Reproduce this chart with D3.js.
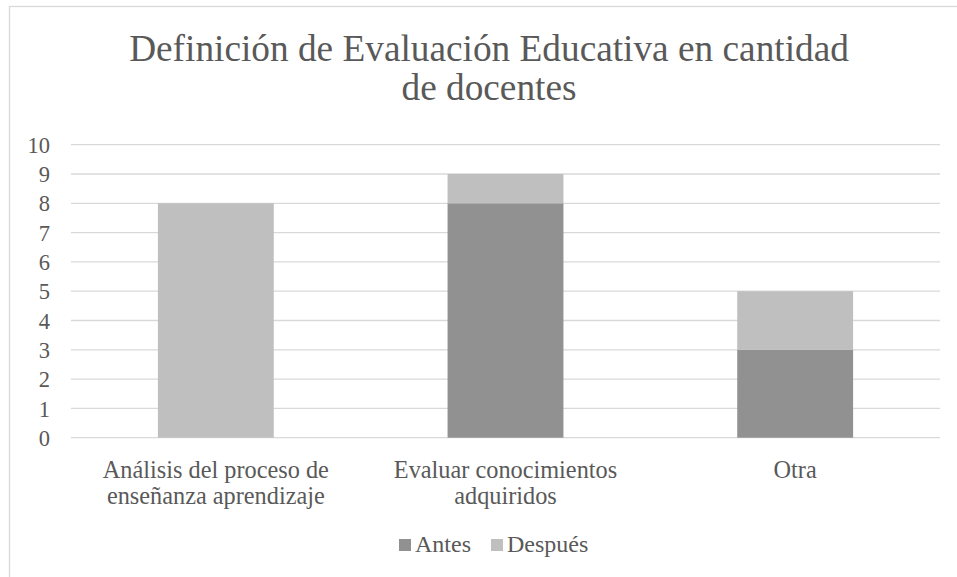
<!DOCTYPE html>
<html>
<head>
<meta charset="utf-8">
<script src="https://cdn.jsdelivr.net/npm/d3@7"></script>
<style>
  html, body { margin: 0; padding: 0; background: #fff; }
  svg { display: block; }
</style>
</head>
<body>
<svg id="chart" width="957" height="577"></svg>
<script>
const categories = [
  ["Análisis del proceso de", "enseñanza aprendizaje"],
  ["Evaluar conocimientos", "adquiridos"],
  ["Otra"]
];
const categoryKeys = ["Análisis", "Evaluar", "Otra"];
const seriesNames = ["Antes", "Después"];
const antes = [0, 8, 3];
const despues = [8, 1, 2];
const yTicks = [0, 1, 2, 3, 4, 5, 6, 7, 8, 9, 10];
const titleLines = ["Definición de Evaluación Educativa en cantidad", "de docentes"];
const colors = ["#919191", "#bfbfbf"];

(function () {
const FONT = "'Liberation Serif'";
const svg = d3.select("#chart");
const textColor = "#595959";

// chart border
svg.append("rect").attr("x", 9.5).attr("y", 6.5).attr("width", 980).attr("height", 600)
  .attr("fill", "#fff").attr("stroke", "#d9d9d9").attr("stroke-width", 1.3);

const pLeft = 71, pRight = 940, pTop = 144.7, pBottom = 437.7;

const x = d3.scaleBand().domain(categoryKeys).range([pLeft, pRight]).paddingInner(0.6).paddingOuter(0.3);
const y = d3.scaleLinear().domain([0, 10]).range([pBottom, pTop]);

// gridlines
svg.append("g").selectAll("line").data(yTicks).join("line")
  .attr("x1", pLeft).attr("x2", pRight)
  .attr("y1", d => y(d)).attr("y2", d => y(d))
  .attr("stroke", "#d9d9d9").attr("stroke-width", 1.3);

// stacked data
const rows = categoryKeys.map((k, i) => ({ key: k, Antes: antes[i], "Después": despues[i] }));
const stack = d3.stack().keys(seriesNames)(rows);

svg.append("g").selectAll("g").data(stack).join("g")
  .attr("fill", (d, i) => colors[i])
  .selectAll("rect").data(d => d.filter(s => s[1] - s[0] > 0)).join("rect")
  .attr("x", d => x(d.data.key))
  .attr("width", x.bandwidth())
  .attr("y", d => y(d[1]))
  .attr("height", d => y(d[0]) - y(d[1]));

// y axis labels
const yAxis = d3.axisLeft(y).tickValues(yTicks).tickSize(0).tickPadding(0);
const ya = svg.append("g").attr("transform", "translate(50,0)").call(yAxis);
ya.select(".domain").remove();
ya.selectAll("text").attr("fill", textColor)
  .style("font-family", FONT).style("font-size", "22.5px")
  .attr("dy", "0.34em");

// x category labels
const xl = svg.append("g");
categoryKeys.forEach((k, i) => {
  const cx = x(k) + x.bandwidth() / 2;
  const t = xl.append("text").attr("x", cx).attr("y", 478).style("font-family", FONT)
    .attr("text-anchor", "middle").attr("fill", textColor).style("font-size", "24.3px");
  categories[i].forEach((line, j) => {
    t.append("tspan").attr("x", cx).attr("dy", j === 0 ? 0 : 26).text(line);
  });
});

// title
const title = svg.append("text").attr("x", 489).attr("y", 61).style("font-family", FONT)
  .attr("text-anchor", "middle").attr("fill", textColor).style("font-size", "37.3px");
titleLines.forEach((line, j) => {
  title.append("tspan").attr("x", 489).attr("dy", j === 0 ? 0 : 39).text(line);
});

// legend
const legendX = [399, 491];
seriesNames.forEach((name, i) => {
  svg.append("rect").attr("x", legendX[i]).attr("y", 539).attr("width", 12).attr("height", 12)
    .attr("fill", colors[i]);
  svg.append("text").attr("x", legendX[i] + 16).attr("y", 552).style("font-family", FONT)
    .attr("fill", textColor).style("font-size", "24px").text(name);
});
})();
</script>
</body>
</html>
